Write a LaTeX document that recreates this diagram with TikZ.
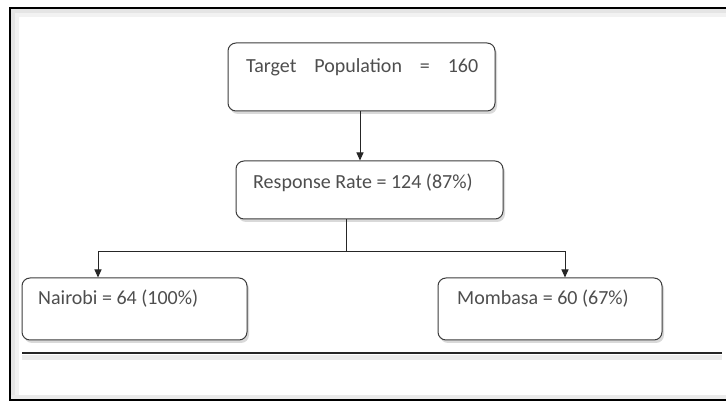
\documentclass[tikz,border=0pt]{standalone}
\usepackage{fontspec}
\setmainfont{Carlito}
\usetikzlibrary{arrows.meta,shadows}
\definecolor{txtgray}{HTML}{4E4E4E}
\definecolor{boxline}{HTML}{3C3C3C}
\tikzset{
  flowbox/.style={draw=boxline, line width=1pt, rounded corners=8pt, fill=white,
    inner sep=0pt, drop shadow={shadow xshift=2pt, shadow yshift=-3pt, opacity=0.15, fill=black}},
  lbl/.style={anchor=west, inner sep=0pt, text=txtgray, font=\fontsize{20}{23}\selectfont},
  conn/.style={draw=black!85, line width=1pt},
  arr/.style={conn, -{Triangle[length=8pt,width=7pt]}},
  frame/.style={draw=black, line width=2pt},
}
\begin{document}
\begin{tikzpicture}[x=1pt,y=-1pt]
\useasboundingbox (0,0) rectangle (726,403);
% inner shadow of frame
\fill[black!10] (11,9) rectangle (726,13);
\fill[black!5] (11,13) rectangle (726,17);
\fill[black!10] (11,9) rectangle (15,399);
\fill[black!5] (15,13) rectangle (19,399);
\fill[black!8] (11,395) rectangle (726,399);
% frame
\draw[frame] (726,8) -- (10,8) -- (10,400) -- (726,400);
% horizontal rule
\fill[black!8] (22,355) rectangle (722,360);
\draw[line width=2pt, black!85] (22,353) -- (722,353);
% boxes
\node[flowbox, minimum width=267pt, minimum height=68pt] (target) at (361.5,77) {};
\node[flowbox, minimum width=267pt, minimum height=58pt] (response) at (369.5,190) {};
\node[flowbox, minimum width=225pt, minimum height=62pt] (nairobi) at (134.5,309) {};
\node[flowbox, minimum width=224pt, minimum height=62pt] (mombasa) at (550,309) {};
% labels
\node[lbl] (tTarget) at (246,67) {\makebox[232pt][s]{Target\hfill Population\hfill =\hfill 160}};
\node[lbl] (tResponse) at (253,183) {Response Rate = 124 (87\%)};
\node[lbl] (tNairobi) at (38,299) {Nairobi = 64 (100\%)};
\node[lbl] (tMombasa) at (457,299) {Mombasa = 60 (67\%)};
% connectors
\coordinate (split) at (346,252);
\coordinate (nl) at (98,252);
\coordinate (ml) at (565,252);
\draw[arr] (target.south -| 360,0) -- (response.north -| 360,0);
\draw[conn] (response.south -| split) -- (split);
\draw[conn, {Triangle[length=8pt,width=7pt]}-{Triangle[length=8pt,width=7pt]}] (nairobi.north -| nl) -- (nl) -- (ml) -- (mombasa.north -| ml);
\end{tikzpicture}
\end{document}
